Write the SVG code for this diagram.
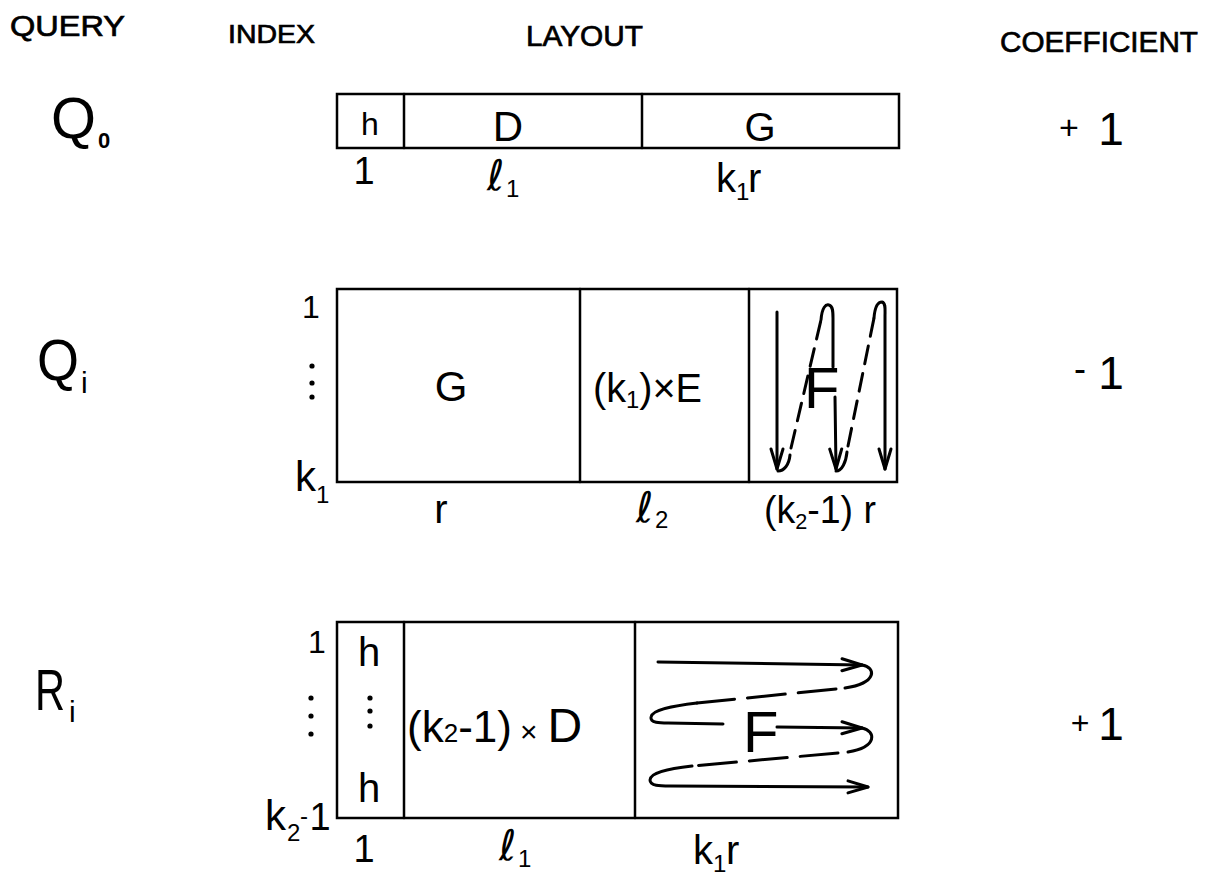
<svg xmlns="http://www.w3.org/2000/svg" width="1215" height="878" viewBox="0 0 1215 878">
<style>
.t{font-family:"Liberation Sans","DejaVu Sans",sans-serif;fill:#000}
.h{font-family:"Liberation Sans","DejaVu Sans",sans-serif;fill:#000;stroke:#000;stroke-width:0.7}
.d{font-family:"DejaVu Sans","Liberation Sans",sans-serif;fill:#000}
.box{fill:none;stroke:#000;stroke-width:2.5}
.ln{fill:none;stroke:#000;stroke-width:2.5;stroke-linecap:round}
.fl{fill:none;stroke:#000;stroke-width:3;stroke-linecap:round;stroke-linejoin:round}
.dq{stroke-dasharray:18 10}
.dr{stroke-dasharray:38 13}
.dot{fill:#000}
</style>
<defs>
<marker id="ah" viewBox="0 0 24 16" refX="22" refY="8" markerWidth="24" markerHeight="16" orient="auto" markerUnits="userSpaceOnUse">
<path d="M2,2 L22,8 L2,14" fill="none" stroke="#000" stroke-width="3" stroke-linecap="round" stroke-linejoin="round"/>
</marker>
</defs>
<rect width="1215" height="878" fill="#fff"/>

<g id="header">
<text class="h" x="10" y="36" font-size="29" textLength="115" lengthAdjust="spacingAndGlyphs">QUERY</text>
<text class="h" x="228" y="43" font-size="26" textLength="87" lengthAdjust="spacingAndGlyphs">INDEX</text>
<text class="h" x="526" y="46" font-size="30" textLength="117" lengthAdjust="spacingAndGlyphs">LAYOUT</text>
<text class="h" x="1000" y="52" font-size="30" textLength="198" lengthAdjust="spacingAndGlyphs">COEFFICIENT</text>
</g>

<g id="q0">
<text class="t" x="51" y="138" font-size="58" textLength="45" lengthAdjust="spacingAndGlyphs">Q</text>
<text class="t" x="98" y="148" font-size="22" font-weight="bold">0</text>
<rect class="box" x="337" y="94" width="562" height="54"/>
<line class="ln" x1="404" y1="94" x2="404" y2="148"/>
<line class="ln" x1="642" y1="94" x2="642" y2="148"/>
<text class="t" x="370" y="135" font-size="32" text-anchor="middle">h</text>
<text class="t" x="508" y="141" font-size="42" text-anchor="middle">D</text>
<text class="t" x="760" y="141" font-size="40" text-anchor="middle">G</text>
<text class="t" x="364" y="184" font-size="38" text-anchor="middle">1</text>
<text class="d" x="487" y="190" font-size="42">ℓ</text>
<text class="t" x="506" y="197" font-size="24">1</text>
<text class="t" x="716" y="192" font-size="40">k</text>
<text class="t" x="736" y="200" font-size="24">1</text>
<text class="t" x="748" y="192" font-size="40">r</text>
<text class="t" x="1069" y="139" font-size="34" text-anchor="middle">+</text>
<text class="t" x="1111" y="145" font-size="46" text-anchor="middle">1</text>
</g>

<g id="qi">
<text class="t" x="37" y="380" font-size="58" textLength="42" lengthAdjust="spacingAndGlyphs">Q</text>
<text class="t" x="81" y="393" font-size="30">i</text>
<text class="t" x="311" y="318" font-size="32" text-anchor="middle">1</text>
<circle class="dot" cx="312" cy="366" r="2.6"/>
<circle class="dot" cx="312" cy="383" r="2.6"/>
<circle class="dot" cx="312" cy="397" r="2.6"/>
<text class="t" x="295" y="491" font-size="42">k</text>
<text class="t" x="316" y="503" font-size="24">1</text>
<rect class="box" x="337" y="289" width="560" height="193"/>
<line class="ln" x1="580" y1="289" x2="580" y2="482"/>
<line class="ln" x1="749" y1="289" x2="749" y2="482"/>
<text class="t" x="451" y="401" font-size="42" text-anchor="middle">G</text>
<text class="t" x="593" y="402" font-size="40" textLength="109" lengthAdjust="spacingAndGlyphs">(k<tspan font-size="24" dy="6">1</tspan><tspan dy="-6">)×E</tspan></text>
<text class="t" x="804" y="408" font-size="58">F</text>
<text class="t" x="1080" y="381" font-size="36" text-anchor="middle">-</text>
<text class="t" x="1111" y="389" font-size="46" text-anchor="middle">1</text>
<text class="t" x="441" y="523" font-size="40" text-anchor="middle">r</text>
<text class="d" x="636" y="522" font-size="42">ℓ</text>
<text class="t" x="655" y="528" font-size="24">2</text>
<text class="t" x="764" y="523" font-size="38" textLength="112" lengthAdjust="spacingAndGlyphs">(k<tspan font-size="22" dy="6">2</tspan><tspan dy="-6">-1) r</tspan></text>
</g>

<g id="ri">
<text class="t" x="35" y="710" font-size="58" textLength="30" lengthAdjust="spacingAndGlyphs">R</text>
<text class="t" x="69" y="722" font-size="30">i</text>
<text class="t" x="317" y="653" font-size="32" text-anchor="middle">1</text>
<circle class="dot" cx="311" cy="698" r="2.6"/>
<circle class="dot" cx="311" cy="716" r="2.6"/>
<circle class="dot" cx="311" cy="734" r="2.6"/>
<text class="t" x="265" y="830" font-size="42">k</text>
<text class="t" x="287" y="841" font-size="24">2</text>
<text class="t" x="300" y="824" font-size="24">-</text>
<text class="t" x="320" y="830" font-size="38" text-anchor="middle">1</text>
<rect class="box" x="337" y="622" width="561" height="196"/>
<line class="ln" x1="404" y1="622" x2="404" y2="818"/>
<line class="ln" x1="635" y1="622" x2="635" y2="818"/>
<text class="t" x="369" y="666" font-size="40" text-anchor="middle">h</text>
<circle class="dot" cx="370" cy="698" r="2.6"/>
<circle class="dot" cx="370" cy="711" r="2.6"/>
<circle class="dot" cx="370" cy="726" r="2.6"/>
<text class="t" x="369" y="802" font-size="40" text-anchor="middle">h</text>
<text class="t" x="407" y="742" font-size="44">(k<tspan font-size="26">2</tspan><tspan>-1)</tspan><tspan font-size="30" dx="8">×</tspan><tspan font-size="48" dx="10">D</tspan></text>
<text class="t" x="1080" y="734" font-size="32" text-anchor="middle">+</text>
<text class="t" x="1111" y="740" font-size="46" text-anchor="middle">1</text>
<text class="t" x="364" y="862" font-size="38" text-anchor="middle">1</text>
<text class="d" x="499" y="860" font-size="42">ℓ</text>
<text class="t" x="518" y="867" font-size="24">1</text>
<text class="t" x="693" y="864" font-size="40">k</text>
<text class="t" x="713" y="872" font-size="24">1</text>
<text class="t" x="726" y="864" font-size="40">r</text>
</g>

<g id="connectors">
<path class="fl" d="M777,312 L777,469" marker-end="url(#ah)"/>
<path class="fl" d="M778,471 C784,471 789,465 790,455"/>
<path class="fl dq" d="M791,448 L821,320"/>
<path class="fl" d="M821,320 C822,307 826,304 829,305 C833,306 833,312 833,318 L833,367"/>
<path class="fl" d="M835,397 L836,469" marker-end="url(#ah)"/>
<path class="fl" d="M836,471 C842,471 846,462 847,452"/>
<path class="fl dq" d="M848,446 L874,318"/>
<path class="fl" d="M874,318 C875,305 879,302 882,302 C886,303 885,310 885,316 L885,469" marker-end="url(#ah)"/>

<path class="fl" d="M658,662 L862,665" marker-end="url(#ah)"/>
<path class="fl" d="M862,665 C876,667 878,683 845,688"/>
<path class="fl dr" d="M836,689 L697,703"/>
<path class="fl" d="M697,703 C672,706 652,710 651,717 C650,723 660,723 668,723 L723,724"/>
<text class="t" x="743" y="752" font-size="58">F</text>
<path class="fl" d="M777,727 L862,728" marker-end="url(#ah)"/>
<path class="fl" d="M862,728 C876,731 878,747 848,752"/>
<path class="fl dr" d="M838,753 L692,766"/>
<path class="fl" d="M692,766 C667,769 650,773 650,780 C650,786 660,786 670,786 L868,787" marker-end="url(#ah)"/>
</g>
</svg>
